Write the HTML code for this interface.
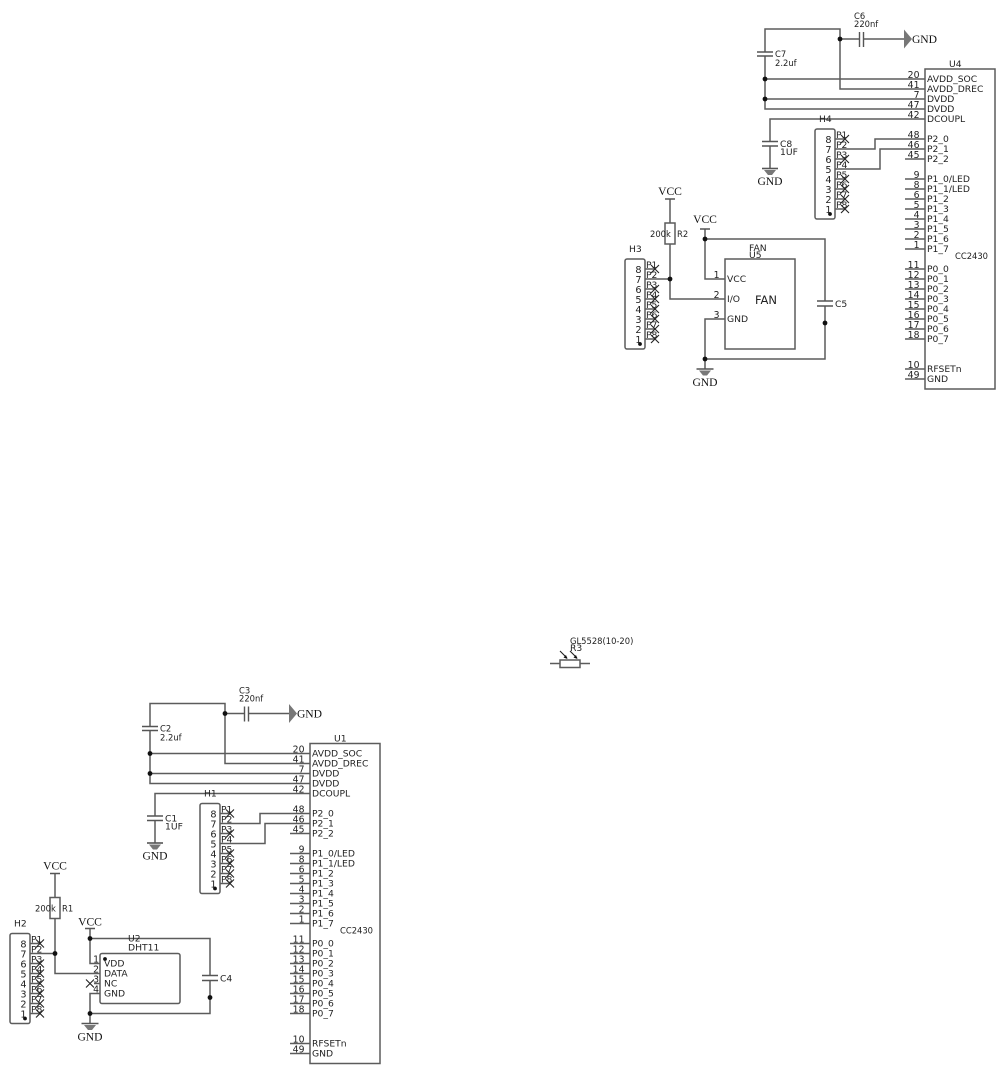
<!DOCTYPE html>
<html><head><meta charset="utf-8">
<style>
html,body{margin:0;padding:0;background:#fff;width:1005px;height:1074px;overflow:hidden}
svg{display:block}
.w{fill:none;stroke:#5c5c5c;stroke-width:1.5}
.p{fill:none;stroke:#555;stroke-width:1.4}
.x{fill:none;stroke:#222;stroke-width:1.1}
.b{fill:none;stroke:#5c5c5c;stroke-width:1.5}
.j{fill:#111;stroke:none}
.g{fill:#777;stroke:none}
text{font-family:"DejaVu Sans",sans-serif;fill:#222}
.n{font-size:9.3px;text-anchor:end}
.l{font-size:9.2px}
.s{font-size:8.4px}
.h{font-size:9.7px;text-anchor:end}
.v{font-family:"Liberation Serif",serif;font-size:11.6px;text-anchor:middle;fill:#111}
</style></head><body>
<svg width="1005" height="1074" viewBox="0 0 1005 1074" xmlns="http://www.w3.org/2000/svg">

<!-- U4 block -->
<g>
<path class="w" d="M765 52V29H840V89H925M765 56V109H925M765 79H925M765 99H925M840 39H859M863 39H905M770 141V119H925M770 146V168M835 149H875V139H925M835 169H880V149H925"/>
<path class="w" d="M905 159H925M905 179H925M905 189H925M905 199H925M905 209H925M905 219H925M905 229H925M905 239H925M905 249H925M905 269H925M905 279H925M905 289H925M905 299H925M905 309H925M905 319H925M905 329H925M905 339H925M905 369H925M905 379H925"/>
<path class="p" d="M757 52H773M757 56H773M859.500 32V47M863.500 32V47M762 141.500H778M762 146H778"/>
<rect class="b" x="925" y="69" width="70" height="320"/>
<circle class="j" cx="840" cy="39" r="2.400"/><circle class="j" cx="765" cy="79" r="2.400"/><circle class="j" cx="765" cy="99" r="2.400"/>
<polygon class="g" points="904,29.500 912,39 904,48.500"/>
<path class="p" d="M762 168.500H778" style="stroke-width:1.600"/><path class="g" d="M764 170H776L772 175H768z"/>
<text class="v" x="924.500" y="43">GND</text><text class="v" x="770" y="185">GND</text>
<text class="s" x="854" y="19">C6</text><text class="s" x="854" y="27">220nf</text>
<text class="s" x="775" y="57">C7</text><text class="s" x="775" y="66">2.2uf</text>
<text class="l" x="780" y="147">C8</text><text class="l" x="780" y="155">1UF</text>
<text class="l" x="949" y="67">U4</text><text class="s" x="955" y="259">CC2430</text>
<text class="n" x="919.500" y="78">20</text><text class="n" x="919.500" y="88">41</text><text class="n" x="919.500" y="98">7</text><text class="n" x="919.500" y="108">47</text><text class="n" x="919.500" y="118">42</text><text class="n" x="919.500" y="138">48</text><text class="n" x="919.500" y="148">46</text><text class="n" x="919.500" y="158">45</text><text class="n" x="919.500" y="178">9</text><text class="n" x="919.500" y="188">8</text><text class="n" x="919.500" y="198">6</text><text class="n" x="919.500" y="208">5</text><text class="n" x="919.500" y="218">4</text><text class="n" x="919.500" y="228">3</text><text class="n" x="919.500" y="238">2</text><text class="n" x="919.500" y="248">1</text><text class="n" x="919.500" y="268">11</text><text class="n" x="919.500" y="278">12</text><text class="n" x="919.500" y="288">13</text><text class="n" x="919.500" y="298">14</text><text class="n" x="919.500" y="308">15</text><text class="n" x="919.500" y="318">16</text><text class="n" x="919.500" y="328">17</text><text class="n" x="919.500" y="338">18</text><text class="n" x="919.500" y="368">10</text><text class="n" x="919.500" y="378">49</text>
<text class="l" x="927" y="82">AVDD_SOC</text><text class="l" x="927" y="92">AVDD_DREC</text><text class="l" x="927" y="102">DVDD</text><text class="l" x="927" y="112">DVDD</text><text class="l" x="927" y="122">DCOUPL</text><text class="l" x="927" y="142">P2_0</text><text class="l" x="927" y="152">P2_1</text><text class="l" x="927" y="162">P2_2</text><text class="l" x="927" y="182">P1_0/LED</text><text class="l" x="927" y="192">P1_1/LED</text><text class="l" x="927" y="202">P1_2</text><text class="l" x="927" y="212">P1_3</text><text class="l" x="927" y="222">P1_4</text><text class="l" x="927" y="232">P1_5</text><text class="l" x="927" y="242">P1_6</text><text class="l" x="927" y="252">P1_7</text><text class="l" x="927" y="272">P0_0</text><text class="l" x="927" y="282">P0_1</text><text class="l" x="927" y="292">P0_2</text><text class="l" x="927" y="302">P0_3</text><text class="l" x="927" y="312">P0_4</text><text class="l" x="927" y="322">P0_5</text><text class="l" x="927" y="332">P0_6</text><text class="l" x="927" y="342">P0_7</text><text class="l" x="927" y="372">RFSETn</text><text class="l" x="927" y="382">GND</text>
<!-- H4 -->
<rect class="b" x="815" y="129" width="20" height="90" rx="2"/>
<path class="w" d="M835 139H845M835 159H845M835 179H845M835 189H845M835 199H845M835 209H845"/>
<path class="x" d="M841 135l8 8m0-8l-8 8M841 155l8 8m0-8l-8 8M841 175l8 8m0-8l-8 8M841 185l8 8m0-8l-8 8M841 195l8 8m0-8l-8 8M841 205l8 8m0-8l-8 8"/>
<text class="l" x="819" y="122">H4</text>
<text class="h" x="831.500" y="143">8</text><text class="h" x="831.500" y="153">7</text><text class="h" x="831.500" y="163">6</text><text class="h" x="831.500" y="173">5</text><text class="h" x="831.500" y="183">4</text><text class="h" x="831.500" y="193">3</text><text class="h" x="831.500" y="203">2</text><text class="h" x="831.500" y="213">1</text>
<circle class="j" cx="830" cy="214" r="1.900"/>
<text class="l" x="836" y="138">P1</text><text class="l" x="836" y="148">P2</text><text class="l" x="836" y="158">P3</text><text class="l" x="836" y="168">P4</text><text class="l" x="836" y="178">P5</text><text class="l" x="836" y="188">P6</text><text class="l" x="836" y="198">P7</text><text class="l" x="836" y="208">P8</text>
<!-- R2 / FAN -->
<path class="w" d="M670 199V223M670 244V299H725M645 279H670M705 229V279H725M705 239H825V301M825 306V359H705M725 319H705V369"/>
<path class="p" d="M665 199H675M700 229H710M817 301H833M817 306H833"/>
<rect class="b" x="665" y="223" width="10" height="21"/>
<rect class="b" x="725" y="259" width="70" height="90"/>
<circle class="j" cx="670" cy="279" r="2.400"/><circle class="j" cx="705" cy="239" r="2.400"/><circle class="j" cx="825" cy="323" r="2.400"/><circle class="j" cx="705" cy="359" r="2.400"/>
<path class="p" d="M696.500 369H713.500" style="stroke-width:1.600"/><path class="g" d="M699 370.500H711L707 375.500H703z"/>
<text class="v" x="670" y="195">VCC</text><text class="v" x="705" y="223">VCC</text><text class="v" x="705" y="386">GND</text>
<text class="s" x="650" y="237">200k</text><text class="s" x="677" y="237">R2</text>
<text class="l" x="749" y="251">FAN</text><text class="l" x="749" y="258">U5</text><text class="l" x="835" y="307">C5</text><text class="l" x="629" y="252">H3</text>
<text class="n" x="719.500" y="278">1</text><text class="n" x="719.500" y="298">2</text><text class="n" x="719.500" y="318">3</text>
<text class="l" x="727" y="282">VCC</text><text class="l" x="727" y="302">I/O</text><text class="l" x="727" y="322">GND</text>
<text x="755" y="304" style="font-size:11.500px">FAN</text>
<!-- H3 -->
<rect class="b" x="625" y="259" width="20" height="90" rx="2"/>
<path class="w" d="M645 269H655M645 289H655M645 299H655M645 309H655M645 319H655M645 329H655M645 339H655"/>
<path class="x" d="M651 265l8 8m0-8l-8 8M651 285l8 8m0-8l-8 8M651 295l8 8m0-8l-8 8M651 305l8 8m0-8l-8 8M651 315l8 8m0-8l-8 8M651 325l8 8m0-8l-8 8M651 335l8 8m0-8l-8 8"/>
<text class="h" x="641.500" y="273">8</text><text class="h" x="641.500" y="283">7</text><text class="h" x="641.500" y="293">6</text><text class="h" x="641.500" y="303">5</text><text class="h" x="641.500" y="313">4</text><text class="h" x="641.500" y="323">3</text><text class="h" x="641.500" y="333">2</text><text class="h" x="641.500" y="343">1</text>
<circle class="j" cx="640" cy="344" r="1.900"/>
<text class="l" x="646" y="268">P1</text><text class="l" x="646" y="278">P2</text><text class="l" x="646" y="288">P3</text><text class="l" x="646" y="298">P4</text><text class="l" x="646" y="308">P5</text><text class="l" x="646" y="318">P6</text><text class="l" x="646" y="328">P7</text><text class="l" x="646" y="338">P8</text>
</g>

<!-- U1 block -->
<g transform="translate(-615,674.500)">
<path class="w" d="M765 52V29H840V89H925M765 56V109H925M765 79H925M765 99H925M840 39H859M863 39H905M770 141V119H925M770 146V168M835 149H875V139H925M835 169H880V149H925"/>
<path class="w" d="M905 159H925M905 179H925M905 189H925M905 199H925M905 209H925M905 219H925M905 229H925M905 239H925M905 249H925M905 269H925M905 279H925M905 289H925M905 299H925M905 309H925M905 319H925M905 329H925M905 339H925M905 369H925M905 379H925"/>
<path class="p" d="M757 52H773M757 56H773M859.500 32V47M863.500 32V47M762 141.500H778M762 146H778"/>
<rect class="b" x="925" y="69" width="70" height="320"/>
<circle class="j" cx="840" cy="39" r="2.400"/><circle class="j" cx="765" cy="79" r="2.400"/><circle class="j" cx="765" cy="99" r="2.400"/>
<polygon class="g" points="904,29.500 912,39 904,48.500"/>
<path class="p" d="M762 168.500H778" style="stroke-width:1.600"/><path class="g" d="M764 170H776L772 175H768z"/>
<text class="v" x="924.500" y="43">GND</text><text class="v" x="770" y="185">GND</text>
<text class="s" x="854" y="19">C3</text><text class="s" x="854" y="27">220nf</text>
<text class="s" x="775" y="57">C2</text><text class="s" x="775" y="66">2.2uf</text>
<text class="l" x="780" y="147">C1</text><text class="l" x="780" y="155">1UF</text>
<text class="l" x="949" y="67">U1</text><text class="s" x="955" y="259">CC2430</text>
<text class="n" x="919.500" y="78">20</text><text class="n" x="919.500" y="88">41</text><text class="n" x="919.500" y="98">7</text><text class="n" x="919.500" y="108">47</text><text class="n" x="919.500" y="118">42</text><text class="n" x="919.500" y="138">48</text><text class="n" x="919.500" y="148">46</text><text class="n" x="919.500" y="158">45</text><text class="n" x="919.500" y="178">9</text><text class="n" x="919.500" y="188">8</text><text class="n" x="919.500" y="198">6</text><text class="n" x="919.500" y="208">5</text><text class="n" x="919.500" y="218">4</text><text class="n" x="919.500" y="228">3</text><text class="n" x="919.500" y="238">2</text><text class="n" x="919.500" y="248">1</text><text class="n" x="919.500" y="268">11</text><text class="n" x="919.500" y="278">12</text><text class="n" x="919.500" y="288">13</text><text class="n" x="919.500" y="298">14</text><text class="n" x="919.500" y="308">15</text><text class="n" x="919.500" y="318">16</text><text class="n" x="919.500" y="328">17</text><text class="n" x="919.500" y="338">18</text><text class="n" x="919.500" y="368">10</text><text class="n" x="919.500" y="378">49</text>
<text class="l" x="927" y="82">AVDD_SOC</text><text class="l" x="927" y="92">AVDD_DREC</text><text class="l" x="927" y="102">DVDD</text><text class="l" x="927" y="112">DVDD</text><text class="l" x="927" y="122">DCOUPL</text><text class="l" x="927" y="142">P2_0</text><text class="l" x="927" y="152">P2_1</text><text class="l" x="927" y="162">P2_2</text><text class="l" x="927" y="182">P1_0/LED</text><text class="l" x="927" y="192">P1_1/LED</text><text class="l" x="927" y="202">P1_2</text><text class="l" x="927" y="212">P1_3</text><text class="l" x="927" y="222">P1_4</text><text class="l" x="927" y="232">P1_5</text><text class="l" x="927" y="242">P1_6</text><text class="l" x="927" y="252">P1_7</text><text class="l" x="927" y="272">P0_0</text><text class="l" x="927" y="282">P0_1</text><text class="l" x="927" y="292">P0_2</text><text class="l" x="927" y="302">P0_3</text><text class="l" x="927" y="312">P0_4</text><text class="l" x="927" y="322">P0_5</text><text class="l" x="927" y="332">P0_6</text><text class="l" x="927" y="342">P0_7</text><text class="l" x="927" y="372">RFSETn</text><text class="l" x="927" y="382">GND</text>
<!-- H1 -->
<rect class="b" x="815" y="129" width="20" height="90" rx="2"/>
<path class="w" d="M835 139H845M835 159H845M835 179H845M835 189H845M835 199H845M835 209H845"/>
<path class="x" d="M841 135l8 8m0-8l-8 8M841 155l8 8m0-8l-8 8M841 175l8 8m0-8l-8 8M841 185l8 8m0-8l-8 8M841 195l8 8m0-8l-8 8M841 205l8 8m0-8l-8 8"/>
<text class="l" x="819" y="122">H1</text>
<text class="h" x="831.500" y="143">8</text><text class="h" x="831.500" y="153">7</text><text class="h" x="831.500" y="163">6</text><text class="h" x="831.500" y="173">5</text><text class="h" x="831.500" y="183">4</text><text class="h" x="831.500" y="193">3</text><text class="h" x="831.500" y="203">2</text><text class="h" x="831.500" y="213">1</text>
<circle class="j" cx="830" cy="214" r="1.900"/>
<text class="l" x="836" y="138">P1</text><text class="l" x="836" y="148">P2</text><text class="l" x="836" y="158">P3</text><text class="l" x="836" y="168">P4</text><text class="l" x="836" y="178">P5</text><text class="l" x="836" y="188">P6</text><text class="l" x="836" y="198">P7</text><text class="l" x="836" y="208">P8</text>
<!-- H2 -->
<rect class="b" x="625" y="259" width="20" height="90" rx="2"/>
<path class="w" d="M645 269H655M645 289H655M645 299H655M645 309H655M645 319H655M645 329H655M645 339H655"/>
<path class="x" d="M651 265l8 8m0-8l-8 8M651 285l8 8m0-8l-8 8M651 295l8 8m0-8l-8 8M651 305l8 8m0-8l-8 8M651 315l8 8m0-8l-8 8M651 325l8 8m0-8l-8 8M651 335l8 8m0-8l-8 8"/>
<text class="h" x="641.500" y="273">8</text><text class="h" x="641.500" y="283">7</text><text class="h" x="641.500" y="293">6</text><text class="h" x="641.500" y="303">5</text><text class="h" x="641.500" y="313">4</text><text class="h" x="641.500" y="323">3</text><text class="h" x="641.500" y="333">2</text><text class="h" x="641.500" y="343">1</text>
<circle class="j" cx="640" cy="344" r="1.900"/>
<text class="l" x="646" y="268">P1</text><text class="l" x="646" y="278">P2</text><text class="l" x="646" y="288">P3</text><text class="l" x="646" y="298">P4</text><text class="l" x="646" y="308">P5</text><text class="l" x="646" y="318">P6</text><text class="l" x="646" y="328">P7</text><text class="l" x="646" y="338">P8</text>
<text class="l" x="629" y="252">H2</text>
<!-- R1 / DHT11 -->
<path class="w" d="M670 199V223M670 244V299H715M645 279H670M705 254V289H715M705 264H825V301M825 306V339H705M715 319H705V349M709 309H715"/>
<path class="p" d="M665 199H675M700 254H710M817 301H833M817 306H833"/>
<rect class="b" x="665" y="223" width="10" height="21"/>
<rect class="b" x="715" y="279" width="80" height="50" rx="2"/>
<path class="x" d="M701 305l8 8m0-8l-8 8"/>
<circle class="j" cx="670" cy="279" r="2.400"/><circle class="j" cx="705" cy="264" r="2.400"/><circle class="j" cx="825" cy="323" r="2.400"/><circle class="j" cx="705" cy="339" r="2.400"/>
<circle class="j" cx="720" cy="284.500" r="1.900"/>
<path class="p" d="M696.500 349H713.500" style="stroke-width:1.600"/><path class="g" d="M699 350.500H711L707 355.500H703z"/>
<text class="v" x="670" y="195">VCC</text><text class="v" x="705" y="251">VCC</text><text class="v" x="705" y="366">GND</text>
<text class="s" x="650" y="237">200k</text><text class="s" x="677" y="237">R1</text>
<text class="l" x="743" y="267">U2</text><text class="l" x="743" y="276">DHT11</text><text class="l" x="835" y="307">C4</text>
<text class="n" x="714" y="288">1</text><text class="n" x="714" y="298">2</text><text class="n" x="714" y="308">3</text><text class="n" x="714" y="318">4</text>
<text class="l" x="719" y="292">VDD</text><text class="l" x="719" y="302">DATA</text><text class="l" x="719" y="312">NC</text><text class="l" x="719" y="322">GND</text>
</g>

<!-- R3 -->
<path class="w" d="M550 663.500H560M580 663.500H590"/>
<rect class="b" x="560" y="660" width="20" height="7.500"/>
<path class="x" d="M560 651l7 7M570 651l7 7"/>
<path class="j" d="M567.500 659l-4-1.500 2.500-2.500zM577.500 659l-4-1.500 2.500-2.500z"/>
<text class="s" x="570" y="644">GL5528(10-20)</text>
<text class="l" x="570" y="651">R3</text>
</svg>
</body></html>
